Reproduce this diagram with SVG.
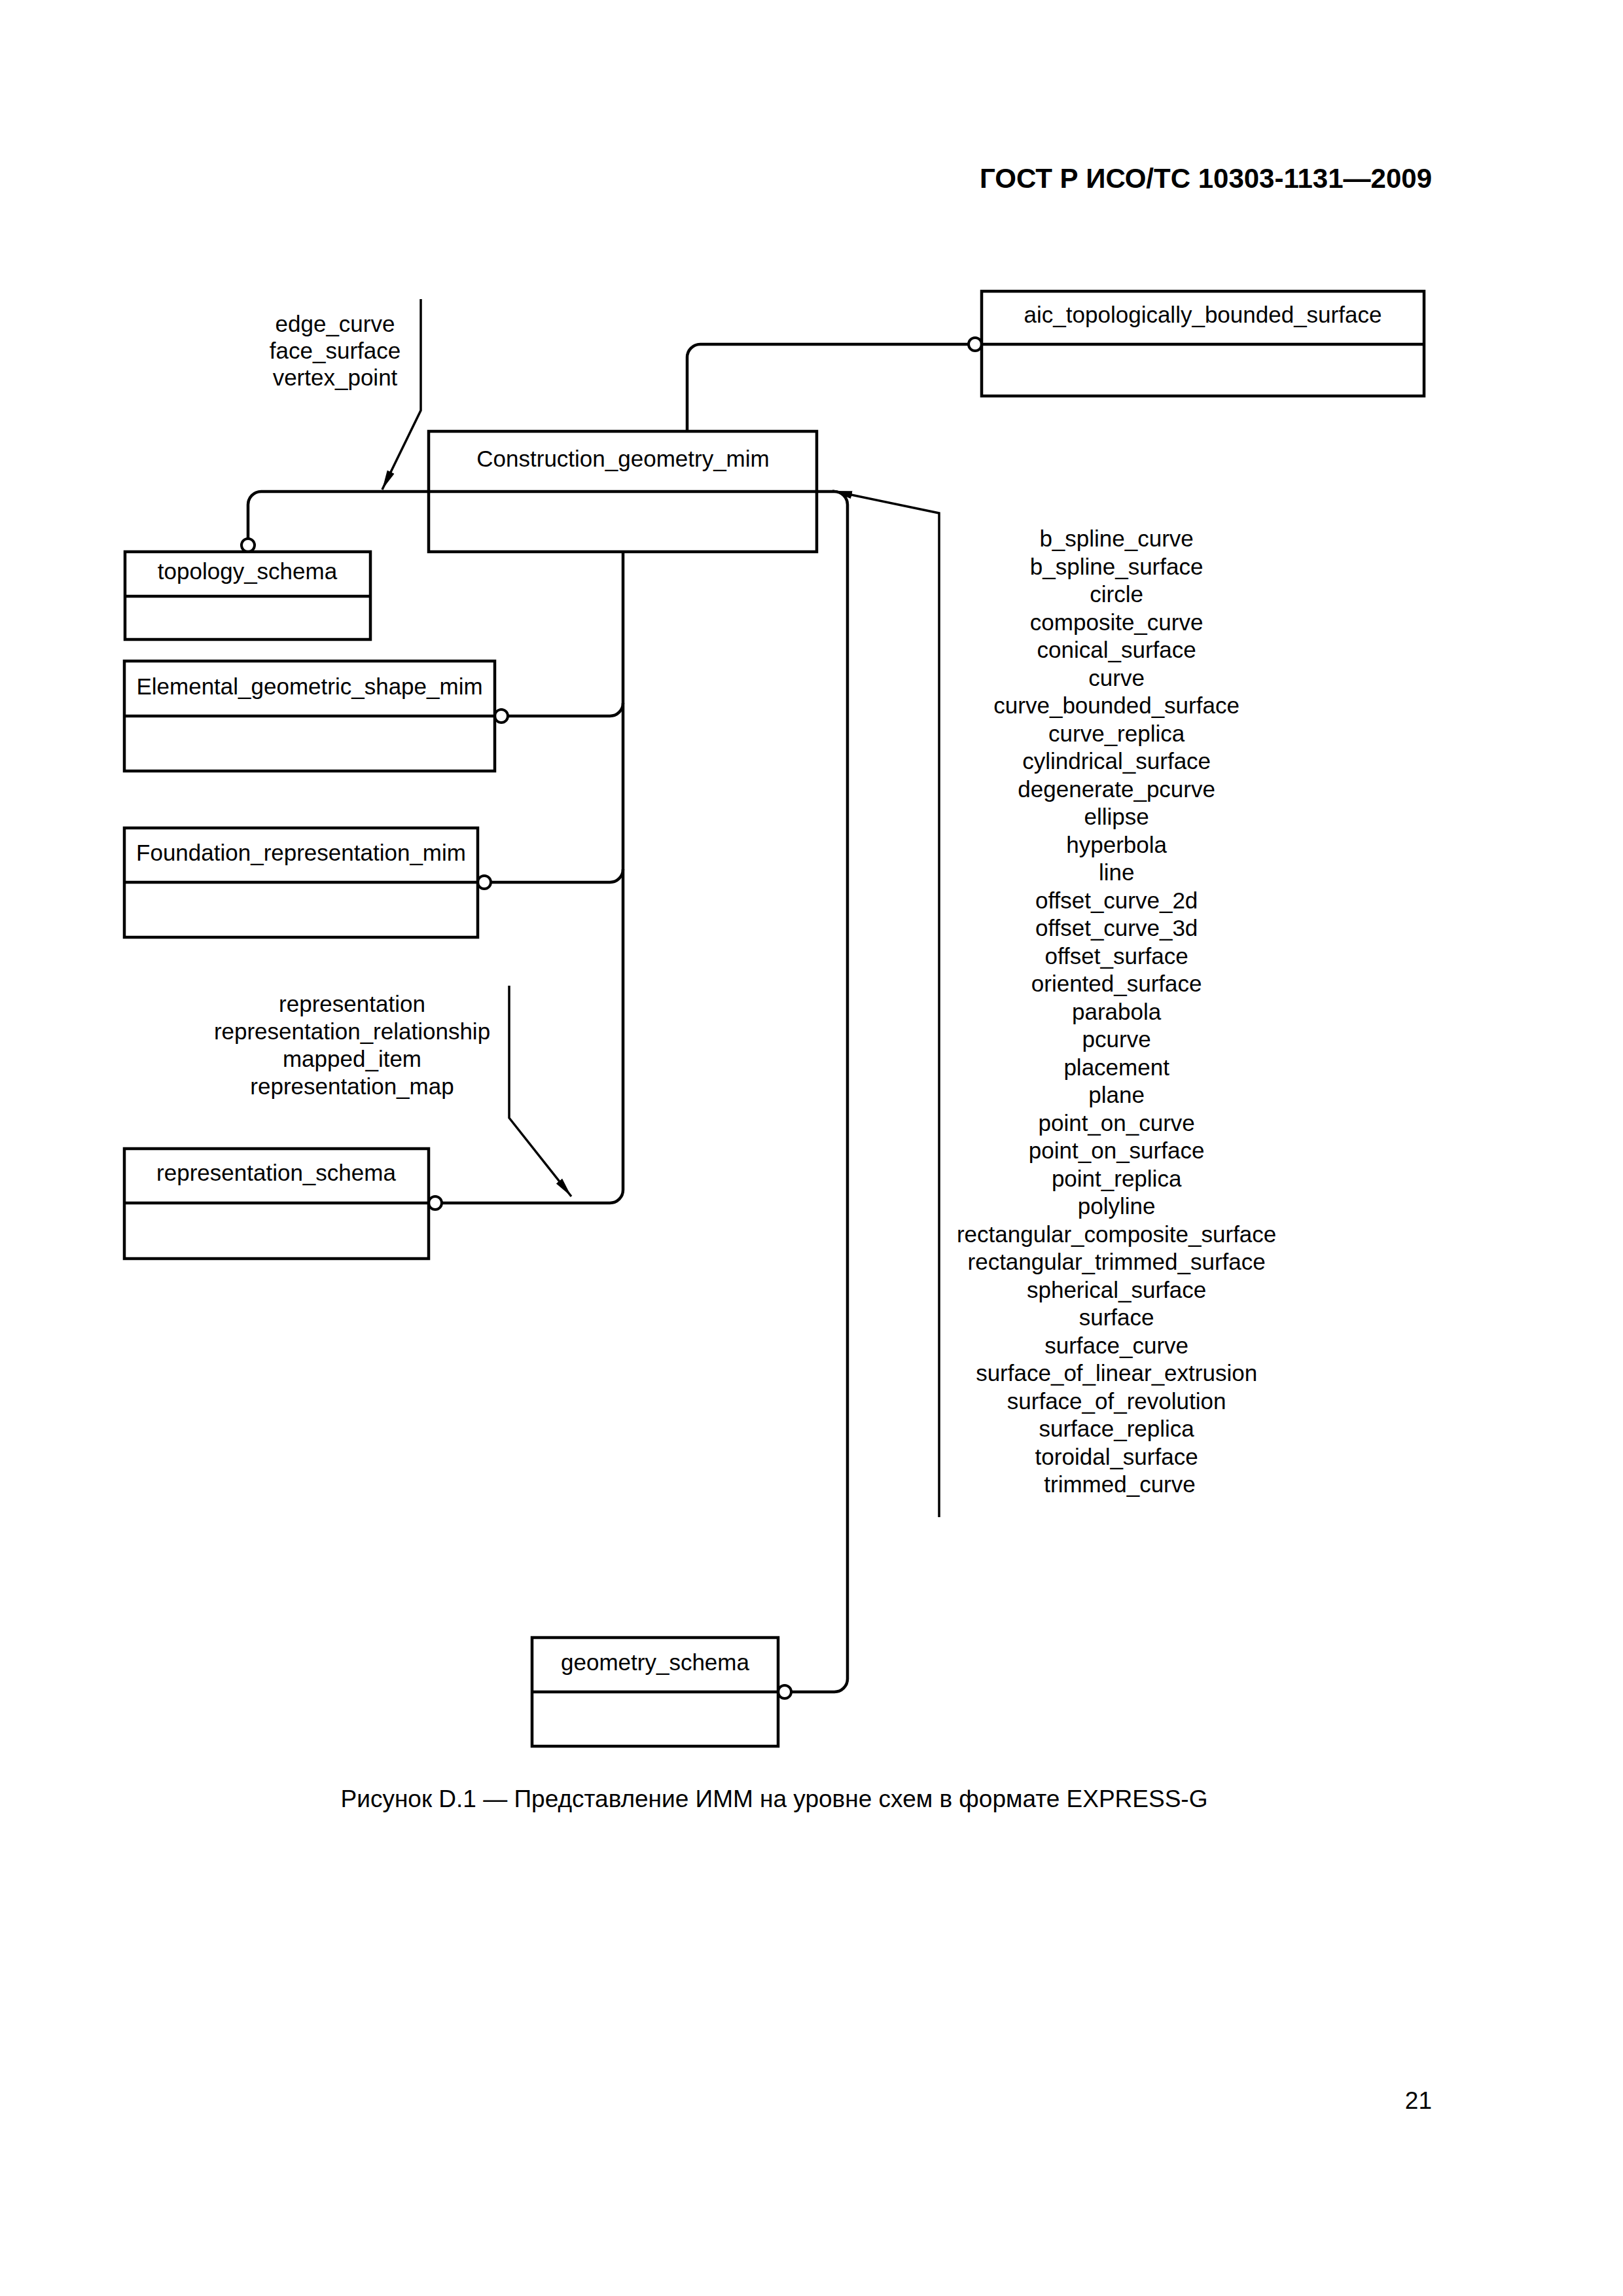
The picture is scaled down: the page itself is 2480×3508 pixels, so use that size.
<svg xmlns="http://www.w3.org/2000/svg" width="2480" height="3508" viewBox="0 0 2480 3508">
<style>
.bg{fill:#fff}
.box{fill:#fff;stroke:#000;stroke-width:4.5}
.div{stroke:#000;stroke-width:4.5}
.con{fill:none;stroke:#000;stroke-width:4.5}
.lbl{fill:none;stroke:#000;stroke-width:3.5}
.ring{fill:#fff;stroke:#000;stroke-width:4}
text{font-family:"Liberation Sans",Arial,sans-serif;fill:#000}
.t{font-size:35px;text-anchor:middle}
.hdr{font-size:42px;font-weight:bold;text-anchor:end}
.cap{font-size:37px;text-anchor:middle}
.pg{font-size:37px;text-anchor:end}
</style>
<defs>
<marker id="ah" markerUnits="userSpaceOnUse" markerWidth="32" markerHeight="14" refX="30" refY="7" orient="auto">
<path d="M0,1 L30,7 L0,13 z" fill="#000"/>
</marker>
</defs>
<rect class="bg" x="0" y="0" width="2480" height="3508"/>
<text class="hdr" x="2188" y="287">ГОСТ Р ИСО/ТС 10303-1131—2009</text>

<g id="connectors">
<path class="con" d="M1050,659 V546 A20,20 0 0 1 1070,526 H1480"/>
<path class="con" d="M379,823 V771 A20,20 0 0 1 399,751 H655"/>
<path class="con" d="M1248,751 H1275 A20,20 0 0 1 1295,771 V2565 A20,20 0 0 1 1275,2585 H1209"/>
<path class="con" d="M952,845 V1818 A20,20 0 0 1 932,1838 H675"/>
<path class="con" d="M776,1094 H932 A20,20 0 0 0 952,1074"/>
<path class="con" d="M750,1348 H932 A20,20 0 0 0 952,1328"/>
<polyline class="lbl" points="643,457 643,627 584,748" marker-end="url(#ah)"/>
<polyline class="lbl" points="778,1506 778,1708 873,1828" marker-end="url(#ah)"/>
<polyline class="lbl" points="1435,2318 1435,784 1272,750" marker-end="url(#ah)"/>
<circle class="ring" cx="1490" cy="526" r="10"/>
<circle class="ring" cx="379" cy="833" r="10"/>
<circle class="ring" cx="766" cy="1094" r="10"/>
<circle class="ring" cx="740" cy="1348" r="10"/>
<circle class="ring" cx="665" cy="1838" r="10"/>
<circle class="ring" cx="1199" cy="2585" r="10"/>
</g>

<g id="aic_topologically_bounded_surface">
<rect class="box" x="1500" y="445" width="676" height="160"/>
<line class="div" x1="1500" y1="526" x2="2176" y2="526"/>
<text class="t" x="1838" y="493">aic_topologically_bounded_surface</text>
</g>

<g id="Construction_geometry_mim">
<rect class="box" x="655" y="659" width="593" height="184"/>
<line class="div" x1="655" y1="751" x2="1248" y2="751"/>
<text class="t" x="952" y="713">Construction_geometry_mim</text>
</g>

<g id="topology_schema">
<rect class="box" x="191" y="843" width="375" height="134"/>
<line class="div" x1="191" y1="911" x2="566" y2="911"/>
<text class="t" x="378" y="885">topology_schema</text>
</g>

<g id="Elemental_geometric_shape_mim">
<rect class="box" x="190" y="1010" width="566" height="168"/>
<line class="div" x1="190" y1="1094" x2="756" y2="1094"/>
<text class="t" x="473" y="1061">Elemental_geometric_shape_mim</text>
</g>

<g id="Foundation_representation_mim">
<rect class="box" x="190" y="1265" width="540" height="167"/>
<line class="div" x1="190" y1="1348" x2="730" y2="1348"/>
<text class="t" x="460" y="1315">Foundation_representation_mim</text>
</g>

<g id="representation_schema">
<rect class="box" x="190" y="1755" width="465" height="168"/>
<line class="div" x1="190" y1="1838" x2="655" y2="1838"/>
<text class="t" x="422" y="1804">representation_schema</text>
</g>

<g id="geometry_schema">
<rect class="box" x="813" y="2502" width="376" height="166"/>
<line class="div" x1="813" y1="2585" x2="1189" y2="2585"/>
<text class="t" x="1001" y="2552">geometry_schema</text>
</g>

<g id="labels">
<text class="t" x="512"><tspan x="512" y="507">edge_curve</tspan><tspan x="512" y="548">face_surface</tspan><tspan x="512" y="589">vertex_point</tspan></text>
<text class="t" x="538"><tspan x="538" y="1546">representation</tspan><tspan x="538" y="1588">representation_relationship</tspan><tspan x="538" y="1630">mapped_item</tspan><tspan x="538" y="1672">representation_map</tspan></text>
<text class="t" x="1711">
<tspan x="1711" y="835">b_spline_curve</tspan>
<tspan x="1711" y="877.5">b_spline_surface</tspan>
<tspan x="1711" y="920">circle</tspan>
<tspan x="1711" y="962.5">composite_curve</tspan>
<tspan x="1711" y="1005">conical_surface</tspan>
<tspan x="1711" y="1047.5">curve</tspan>
<tspan x="1711" y="1090">curve_bounded_surface</tspan>
<tspan x="1711" y="1132.5">curve_replica</tspan>
<tspan x="1711" y="1175">cylindrical_surface</tspan>
<tspan x="1711" y="1217.5">degenerate_pcurve</tspan>
<tspan x="1711" y="1260">ellipse</tspan>
<tspan x="1711" y="1302.5">hyperbola</tspan>
<tspan x="1711" y="1345">line</tspan>
<tspan x="1711" y="1387.5">offset_curve_2d</tspan>
<tspan x="1711" y="1430">offset_curve_3d</tspan>
<tspan x="1711" y="1472.5">offset_surface</tspan>
<tspan x="1711" y="1515">oriented_surface</tspan>
<tspan x="1711" y="1557.5">parabola</tspan>
<tspan x="1711" y="1600">pcurve</tspan>
<tspan x="1711" y="1642.5">placement</tspan>
<tspan x="1711" y="1685">plane</tspan>
<tspan x="1711" y="1727.5">point_on_curve</tspan>
<tspan x="1711" y="1770">point_on_surface</tspan>
<tspan x="1711" y="1812.5">point_replica</tspan>
<tspan x="1711" y="1855">polyline</tspan>
<tspan x="1711" y="1897.5">rectangular_composite_surface</tspan>
<tspan x="1711" y="1940">rectangular_trimmed_surface</tspan>
<tspan x="1711" y="1982.5">spherical_surface</tspan>
<tspan x="1711" y="2025">surface</tspan>
<tspan x="1711" y="2067.5">surface_curve</tspan>
<tspan x="1711" y="2110">surface_of_linear_extrusion</tspan>
<tspan x="1711" y="2152.5">surface_of_revolution</tspan>
<tspan x="1711" y="2195">surface_replica</tspan>
<tspan x="1711" y="2237.5">toroidal_surface</tspan>
<tspan x="1711" y="2280">trimmed_curve</tspan>
</text>
</g>

<text class="cap" x="1183" y="2761">Рисунок D.1 — Представление ИММ на уровне схем в формате EXPRESS-G</text>
<text class="pg" x="2188" y="3222">21</text>
</svg>
